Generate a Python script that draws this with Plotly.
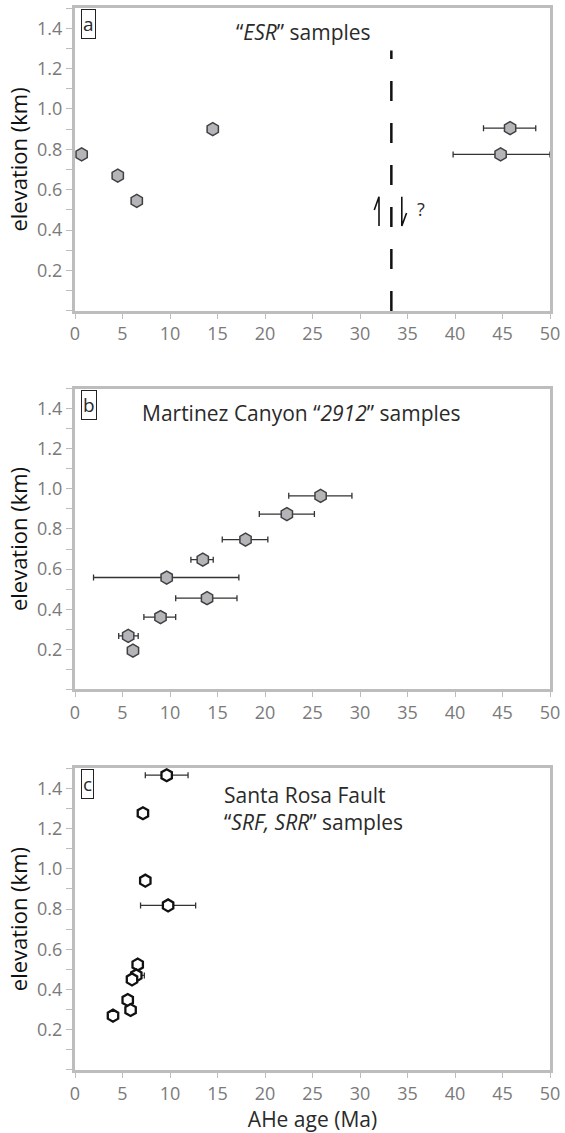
import plotly.graph_objects as go

# ---------------- data ----------------
# Panel a: "ESR" samples
a_age = [0.7, 4.5, 6.5, 14.5, 45.8, 44.8]
a_elev = [0.775, 0.67, 0.545, 0.90, 0.905, 0.775]
a_err_plus = [0, 0, 0, 0, 2.7, 5.2]
a_err_minus = [0, 0, 0, 0, 2.8, 5.0]
fault_x = 33.3
fault_top = 1.29

# Panel b: Martinez Canyon "2912" samples
b_age = [25.85, 22.3, 17.95, 13.45, 9.65, 13.9, 9.0, 5.6, 6.1]
b_elev = [0.965, 0.874, 0.747, 0.647, 0.558, 0.455, 0.361, 0.267, 0.194]
b_err_plus = [3.3, 2.9, 2.35, 1.1, 7.6, 3.15, 1.6, 1.05, 0]
b_err_minus = [3.35, 2.9, 2.45, 1.25, 7.7, 3.3, 1.75, 1.0, 0]

# Panel c: Santa Rosa Fault "SRF, SRR" samples
c_age = [9.65, 7.15, 7.4, 9.8, 6.6, 6.45, 6.0, 5.55, 5.85, 4.0]
c_elev = [1.465, 1.276, 0.941, 0.818, 0.524, 0.470, 0.450, 0.348, 0.298, 0.270]
c_err_plus = [2.25, 0, 0, 2.9, 0, 0.85, 0, 0, 0, 0]
c_err_minus = [2.25, 0, 0, 2.9, 0, 0.5, 0, 0, 0, 0]

x_ticks = list(range(0, 51, 5))
y_ticks = [0.2, 0.4, 0.6, 0.8, 1.0, 1.2, 1.4]
y_tick_text = ["0.2", "0.4", "0.6", "0.8", "1.0", "1.2", "1.4"]

# ---------------- style ----------------
FONT = "Open Sans"
FRAME = "#bdbdbd"
TICKFONT = dict(family=FONT, size=18, color="#7a7a7a")
GRAY_FILL = "#b5b5b9"
DARK = "#2a2a2a"

fig = go.Figure()

def err(plus, minus):
    return dict(type="data", symmetric=False, array=plus, arrayminus=minus,
                color="#333333", thickness=1.3, width=3)

fig.add_trace(go.Scatter(
    x=a_age, y=a_elev, mode="markers", xaxis="x", yaxis="y",
    marker=dict(symbol="hexagon", size=13, color=GRAY_FILL,
                line=dict(color="#404040", width=1.5)),
    error_x=err(a_err_plus, a_err_minus), cliponaxis=False, showlegend=False))

fig.add_trace(go.Scatter(
    x=[fault_x, fault_x], y=[0, fault_top], mode="lines", xaxis="x", yaxis="y",
    line=dict(color="#111111", width=2.5, dash="20px,22px"), showlegend=False))

fig.add_trace(go.Scatter(
    x=b_age, y=b_elev, mode="markers", xaxis="x2", yaxis="y2",
    marker=dict(symbol="hexagon", size=13, color=GRAY_FILL,
                line=dict(color="#404040", width=1.5)),
    error_x=err(b_err_plus, b_err_minus), cliponaxis=False, showlegend=False))

fig.add_trace(go.Scatter(
    x=c_age, y=c_elev, mode="markers", xaxis="x3", yaxis="y3",
    marker=dict(symbol="hexagon", size=12, color="white",
                line=dict(color="#111111", width=2.3)),
    error_x=err(c_err_plus, c_err_minus), cliponaxis=False, showlegend=False))

domains = {"": [0.7148, 1.0], "2": [0.3583, 0.6417], "3": [0.0, 0.2842]}

layout = dict(
    width=565, height=1133,
    margin=dict(l=75, r=14, t=5, b=62),
    paper_bgcolor="white", plot_bgcolor="white",
    font=dict(family=FONT, color=DARK),
)

for k, dom in domains.items():
    layout["xaxis" + k] = dict(
        domain=[0, 1], anchor="y" + k, range=[0, 50],
        tickvals=x_ticks, ticks="outside", ticklen=5, tickwidth=1.2,
        tickcolor=FRAME, tickfont=TICKFONT,
        showline=True, linecolor=FRAME, linewidth=3, mirror=True,
        showgrid=False, zeroline=False,
        title=dict(text="AHe age (Ma)" if k == "3" else "",
                   font=dict(family=FONT, size=21, color=DARK), standoff=9),
    )
    layout["yaxis" + k] = dict(
        domain=dom, anchor="x" + k, range=[0, 1.5],
        tickvals=y_ticks, ticktext=y_tick_text,
        ticks="outside", ticklen=6, tickwidth=1.2, tickcolor=FRAME,
        tickfont=TICKFONT,
        minor=dict(tick0=0, dtick=0.1, ticks="outside", ticklen=6,
                   tickwidth=1.2, tickcolor=FRAME, showgrid=False),
        showline=True, linecolor=FRAME, linewidth=3, mirror=True,
        showgrid=False, zeroline=False,
        title=dict(text="elevation (km)",
                   font=dict(family=FONT, size=22, color="#111111"), standoff=4),
    )

fig.update_layout(**layout)

ann = []
def panel_label(txt, k):
    ann.append(dict(text=txt, x=0.6, y=1.42, xref="x" + k, yref="y" + k,
                    xanchor="left", yanchor="middle", showarrow=False,
                    font=dict(family=FONT, size=19, color=DARK),
                    bordercolor="#222222", borderwidth=1, borderpad=1,
                    bgcolor="white"))

panel_label("a", "")
panel_label("b", "2")
panel_label("c", "3")

ann.append(dict(text="\u201c<i>ESR</i>\u201d samples", x=24.0, y=1.38,
                xref="x", yref="y", xanchor="center", yanchor="middle",
                showarrow=False, font=dict(family=FONT, size=21, color=DARK)))
ann.append(dict(text="Martinez Canyon \u201c<i>2912</i>\u201d samples", x=6.8, y=1.38,
                xref="x2", yref="y2", xanchor="left", yanchor="middle",
                showarrow=False, font=dict(family=FONT, size=21, color=DARK)))
ann.append(dict(text="Santa Rosa Fault<br>\u201c<i>SRF, SRR</i>\u201d samples",
                x=15.5, y=1.30, xref="x3", yref="y3", xanchor="left",
                yanchor="middle", align="left", showarrow=False,
                font=dict(family=FONT, size=21, color=DARK)))
ann.append(dict(text="?", x=36.4, y=0.505, xref="x", yref="y",
                xanchor="center", yanchor="middle", showarrow=False,
                font=dict(family=FONT, size=18, color=DARK)))

fig.update_layout(annotations=ann)

# fault-motion harpoons (decoration)
shapes = [
    dict(type="path", xref="x", yref="y",
         path="M 32.0,0.42 L 32.0,0.565 L 31.5,0.50",
         line=dict(color="#111111", width=1.6)),
    dict(type="path", xref="x", yref="y",
         path="M 34.4,0.565 L 34.4,0.42 L 34.9,0.485",
         line=dict(color="#111111", width=1.6)),
]
fig.update_layout(shapes=shapes)

fig.write_html("out.html")
